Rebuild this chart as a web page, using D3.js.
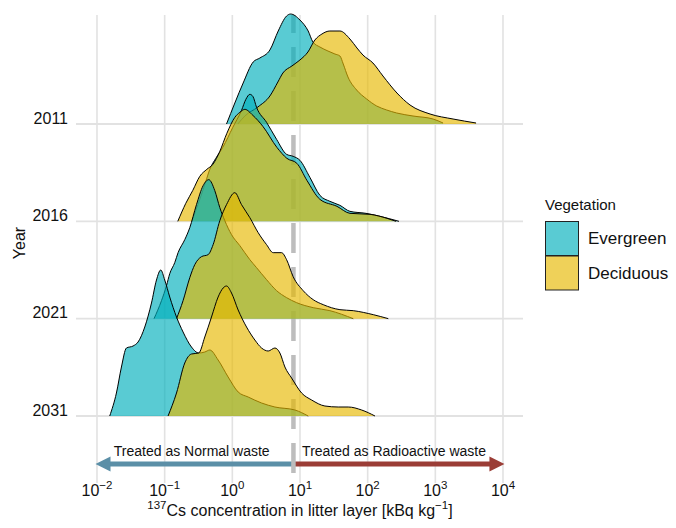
<!DOCTYPE html>
<html>
<head>
<meta charset="utf-8">
<script src="https://cdn.jsdelivr.net/npm/d3@7"></script>
<style>
  body { margin: 0; background: #fff; }
  text { font-family: "Liberation Sans", Arial, Helvetica, sans-serif; }
</style>
</head>
<body>
<script>
// Years (rows, top to bottom) and vegetation groups
const years = ["2011", "2016", "2021", "2031"];
const vegetation = ["Evergreen", "Deciduous"];
const vegColors = ["#00AFBB", "#E7B800"];

// x ticks (powers of ten) and the 8 kBq/kg waste threshold
const tickExponents = [-2, -1, 0, 1, 2, 3, 4];
const threshold = 8;

// Density curves: [log10 concentration, density]
const evergreen2011 = [[-0.086,0],[0.037,0.21],[0.160,0.41],[0.308,0.62],[0.407,0.66],[0.555,0.74],[0.678,0.93],[0.802,1.08],[0.861,1.10],[0.999,1.04],[1.121,0.93],[1.191,0.82],[1.294,0.77],[1.413,0.73],[1.516,0.70],[1.590,0.68],[1.639,0.60],[1.709,0.47],[1.837,0.34],[1.985,0.25],[2.133,0.18],[2.281,0.14],[2.429,0.11],[2.670,0.08],[2.966,0.05],[3.114,0.01]];
const deciduous2011 = [[0.081,0],[0.185,0.08],[0.377,0.17],[0.555,0.28],[0.673,0.42],[0.747,0.51],[0.880,0.58],[0.999,0.64],[1.117,0.72],[1.220,0.84],[1.324,0.90],[1.442,0.93],[1.590,0.93],[1.738,0.85],[1.842,0.76],[1.930,0.69],[2.078,0.61],[2.226,0.48],[2.433,0.31],[2.626,0.19],[2.922,0.10],[3.262,0.05],[3.602,0.01]];
const evergreen2016 = [[-0.599,0],[-0.481,0.22],[-0.392,0.40],[-0.333,0.52],[-0.244,0.63],[-0.141,0.74],[0.007,0.94],[0.136,1.11],[0.200,1.22],[0.259,1.27],[0.303,1.25],[0.358,1.14],[0.506,0.99],[0.654,0.82],[0.802,0.67],[0.899,0.65],[0.999,0.61],[1.146,0.44],[1.294,0.26],[1.442,0.20],[1.590,0.16],[1.738,0.10],[1.975,0.08],[2.182,0.05],[2.463,0]];
const deciduous2016 = [[-0.806,0],[-0.688,0.18],[-0.584,0.31],[-0.481,0.45],[-0.377,0.52],[-0.288,0.57],[-0.185,0.70],[-0.081,0.88],[0.037,1.04],[0.111,1.09],[0.185,1.12],[0.303,1.06],[0.451,0.95],[0.658,0.74],[0.806,0.63],[0.954,0.58],[1.102,0.41],[1.294,0.22],[1.546,0.15],[1.738,0.08],[2.034,0.07],[2.286,0.03],[2.420,0]];
const evergreen2021 = [[-1.157,0],[-1.047,0.18],[-0.973,0.33],[-0.925,0.45],[-0.851,0.56],[-0.802,0.66],[-0.703,0.79],[-0.629,0.91],[-0.530,1.14],[-0.432,1.33],[-0.348,1.39],[-0.259,1.28],[-0.185,1.11],[-0.111,0.98],[-0.012,0.84],[0.111,0.73],[0.259,0.59],[0.358,0.51],[0.506,0.39],[0.654,0.28],[0.802,0.21],[0.950,0.16],[1.195,0.11],[1.442,0.08],[1.787,0]];
const deciduous2021 = [[-0.825,0],[-0.728,0.18],[-0.629,0.41],[-0.555,0.54],[-0.456,0.62],[-0.358,0.64],[-0.284,0.74],[-0.185,0.98],[-0.086,1.14],[0.037,1.26],[0.136,1.14],[0.259,1.01],[0.382,0.86],[0.506,0.74],[0.604,0.66],[0.728,0.66],[0.802,0.59],[0.899,0.42],[1.047,0.28],[1.195,0.19],[1.343,0.14],[1.590,0.09],[1.787,0.08],[2.083,0.04],[2.305,0]];
const evergreen2031 = [[-1.812,0],[-1.713,0.23],[-1.639,0.49],[-1.565,0.68],[-1.467,0.70],[-1.393,0.74],[-1.294,0.89],[-1.195,1.13],[-1.121,1.36],[-1.058,1.46],[-0.999,1.36],[-0.925,1.19],[-0.825,0.99],[-0.728,0.84],[-0.604,0.69],[-0.496,0.63],[-0.407,0.64],[-0.333,0.66],[-0.210,0.56],[-0.062,0.39],[0.086,0.24],[0.234,0.19],[0.432,0.13],[0.629,0.09],[0.925,0.06],[1.121,0]];
const deciduous2031 = [[-0.950,0],[-0.825,0.23],[-0.703,0.53],[-0.604,0.62],[-0.496,0.63],[-0.407,0.79],[-0.308,0.99],[-0.210,1.19],[-0.136,1.28],[-0.086,1.30],[-0.012,1.23],[0.086,1.06],[0.210,0.89],[0.333,0.76],[0.432,0.68],[0.530,0.65],[0.629,0.68],[0.703,0.63],[0.777,0.49],[0.876,0.38],[1.024,0.23],[1.172,0.16],[1.368,0.10],[1.565,0.09],[1.713,0.09],[1.911,0.06],[2.108,0]];

const ridges = {
  "2011": [evergreen2011, deciduous2011],
  "2016": [evergreen2016, deciduous2016],
  "2021": [evergreen2021, deciduous2021],
  "2031": [evergreen2031, deciduous2031]
};

const width = 676, height = 528;
const panel = { left: 76, right: 523, top: 15, bottom: 483 };

const svg = d3.select("body").append("svg")
  .attr("width", width)
  .attr("height", height);

// Scales
const x = d3.scaleLog().domain([1e-2, 1e4]).range([97, 503]);
const y = d3.scalePoint().domain(years).range([124, 416]);
const h = d3.scaleLinear().domain([0, 1]).range([0, 100]);

const gridColor = "#e2e2e2";

// Vertical grid lines
svg.selectAll(".vgrid")
  .data(tickExponents)
  .enter().append("line")
  .attr("class", "vgrid")
  .attr("x1", d => x(Math.pow(10, d)))
  .attr("x2", d => x(Math.pow(10, d)))
  .attr("y1", panel.top)
  .attr("y2", panel.bottom)
  .attr("stroke", gridColor)
  .attr("stroke-width", 1.6);

// Horizontal baselines for each year
svg.selectAll(".hgrid")
  .data(years)
  .enter().append("line")
  .attr("class", "hgrid")
  .attr("x1", panel.left)
  .attr("x2", panel.right)
  .attr("y1", d => y(d))
  .attr("y2", d => y(d))
  .attr("stroke", gridColor)
  .attr("stroke-width", 1.8);

// Arrows: normal waste (left) and radioactive waste (right)
const arrowY = 464;
function arrow(from, to, color) {
  const x0 = x(from), x1 = x(to);
  const dir = Math.sign(x1 - x0);
  const headLen = 15, headHalf = 7.5;
  svg.append("line")
    .attr("x1", x0).attr("x2", x1 - dir * headLen + dir)
    .attr("y1", arrowY).attr("y2", arrowY)
    .attr("stroke", color)
    .attr("stroke-width", 5);
  svg.append("path")
    .attr("d", `M${x1},${arrowY} L${x1 - dir * headLen},${arrowY - headHalf} L${x1 - dir * headLen},${arrowY + headHalf} Z`)
    .attr("fill", color);
}
arrow(threshold, 0.0095, "#5b8fa7");
arrow(threshold, 10500, "#9b3d36");

svg.append("text")
  .attr("x", x(Math.pow(10, -0.6)))
  .attr("y", 455.5)
  .attr("text-anchor", "middle")
  .attr("font-size", 14)
  .attr("fill", "#111")
  .text("Treated as Normal waste");

svg.append("text")
  .attr("x", x(Math.pow(10, 2.39)))
  .attr("y", 455.5)
  .attr("text-anchor", "middle")
  .attr("font-size", 14)
  .attr("fill", "#111")
  .text("Treated as Radioactive waste");

// Threshold dashed line (under the ridges)
svg.append("line")
  .attr("x1", x(threshold)).attr("x2", x(threshold))
  .attr("y1", panel.top).attr("y2", panel.bottom)
  .attr("stroke", "#bdbdbd")
  .attr("stroke-width", 4.5)
  .attr("stroke-dasharray", "30,14")
  .attr("stroke-dashoffset", 12);

// Ridges, top row first so lower rows sit on top
years.forEach(year => {
  const base = y(year);
  const area = d3.area()
    .x(d => x(Math.pow(10, d[0])))
    .y0(base)
    .y1(d => base - h(d[1]))
    .curve(d3.curveMonotoneX);
  const line = d3.line()
    .x(d => x(Math.pow(10, d[0])))
    .y(d => base - h(d[1]))
    .curve(d3.curveMonotoneX);

  ridges[year].forEach((series, i) => {
    svg.append("path")
      .attr("d", area(series))
      .attr("fill", vegColors[i])
      .attr("fill-opacity", 0.65);
    svg.append("path")
      .attr("d", line(series))
      .attr("fill", "none")
      .attr("stroke", "#000")
      .attr("stroke-width", 1);
  });
});

// Y axis labels
svg.selectAll(".ylab")
  .data(years)
  .enter().append("text")
  .attr("class", "ylab")
  .attr("x", 68)
  .attr("y", d => y(d) - 0.5)
  .attr("text-anchor", "end")
  .attr("font-size", 16)
  .attr("fill", "#111")
  .text(d => d);

svg.append("text")
  .attr("transform", "translate(25,243) rotate(-90)")
  .attr("text-anchor", "middle")
  .attr("font-size", 16)
  .attr("fill", "#111")
  .text("Year");

// X tick labels: 10^k
const tickLabels = svg.selectAll(".xlab")
  .data(tickExponents)
  .enter().append("text")
  .attr("class", "xlab")
  .attr("x", d => x(Math.pow(10, d)))
  .attr("y", 496)
  .attr("text-anchor", "middle")
  .attr("font-size", 16)
  .attr("fill", "#111");
tickLabels.append("tspan").text("10");
tickLabels.append("tspan")
  .attr("dy", -7)
  .attr("font-size", 11.5)
  .text(d => (d < 0 ? "\u2212" + Math.abs(d) : String(d)));

// X axis title
const xTitle = svg.append("text")
  .attr("x", 300)
  .attr("y", 516)
  .attr("text-anchor", "middle")
  .attr("font-size", 16)
  .attr("fill", "#111");
xTitle.append("tspan").attr("font-size", 11.5).attr("dy", -7).text("137");
xTitle.append("tspan").attr("dy", 7).text("Cs concentration in litter layer [kBq kg");
xTitle.append("tspan").attr("font-size", 11.5).attr("dy", -7).text("\u22121");
xTitle.append("tspan").attr("dy", 7).text("]");

// Legend
const legend = svg.append("g").attr("transform", "translate(545,221)");
legend.append("text")
  .attr("x", 0)
  .attr("y", -11)
  .attr("font-size", 15)
  .attr("fill", "#111")
  .text("Vegetation");
vegetation.forEach((v, i) => {
  legend.append("rect")
    .attr("x", 0.5)
    .attr("y", i * 34.5 + 0.5)
    .attr("width", 33)
    .attr("height", 34)
    .attr("fill", vegColors[i])
    .attr("fill-opacity", 0.65)
    .attr("stroke", "#222")
    .attr("stroke-width", 1);
  legend.append("text")
    .attr("x", 43)
    .attr("y", i * 34.5 + 17.5)
    .attr("dy", "0.35em")
    .attr("font-size", 17)
    .attr("fill", "#111")
    .text(v);
});
</script>
</body>
</html>
